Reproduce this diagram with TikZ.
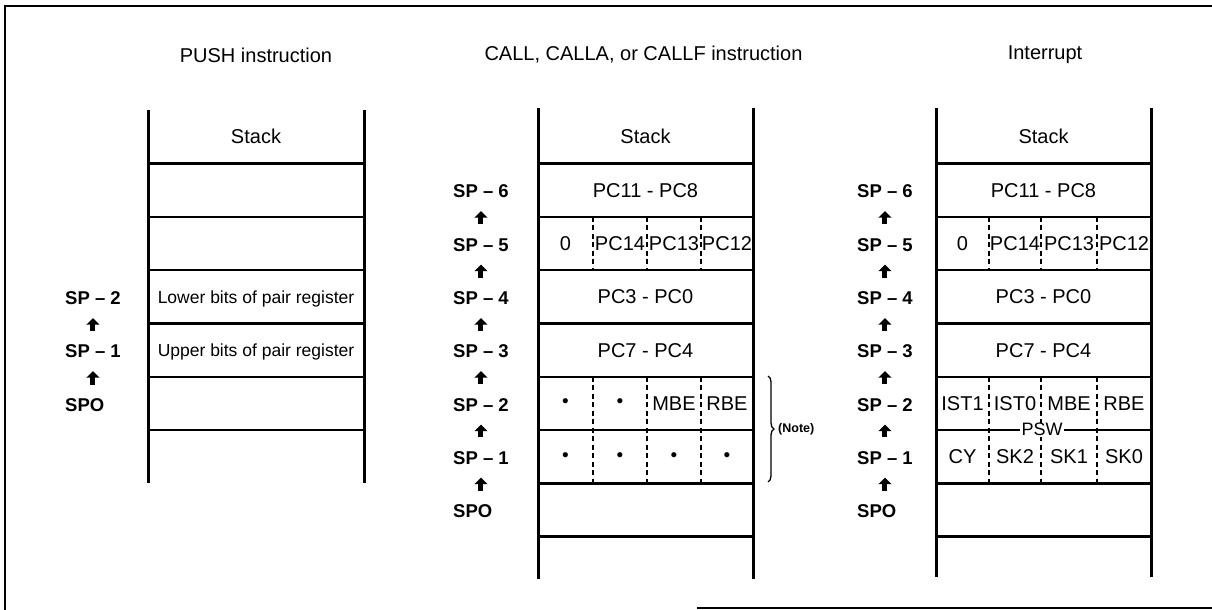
\documentclass[tikz,border=0pt]{standalone}
\usepackage{fontspec}
\setmainfont{Liberation Sans}
\usetikzlibrary{arrows.meta,decorations.pathreplacing}
\tikzset{
  ttl/.style={font=\fontsize{20}{22}\selectfont, inner sep=0pt},
  cell/.style={font=\fontsize{20}{22}\selectfont, inner sep=0pt, text height=14pt, text depth=0pt},
  smallcell/.style={font=\fontsize{17.5}{20}\selectfont, inner sep=0pt, text height=13pt, text depth=0pt},
  dotcell/.style={font=\fontsize{19}{21}\selectfont, inner sep=0pt},
  splabel/.style={font=\bfseries\fontsize{18.5}{22}\selectfont, inner sep=0pt, anchor=west, text height=13pt, text depth=0pt},
  wall/.style={line width=3pt},
  rowline/.style={line width=2.4pt},
  divider/.style={line width=1.6pt, dash pattern=on 5pt off 3.5pt},
  uparr/.style={line width=5pt, -{Triangle[width=13pt,length=6.5pt]}, shorten <=13.5pt, shorten >=13.5pt},
  frameline/.style={line width=2pt},
  notebrace/.style={line width=1.3pt, decorate, decoration={brace, amplitude=6pt}},
  notetext/.style={font=\bfseries\fontsize{12.5}{14}\selectfont, inner sep=0pt, anchor=west}
}
\begin{document}
\begin{tikzpicture}[x=1pt,y=-1pt]
\useasboundingbox (0,0) rectangle (1212,610);

% frame
\draw[frameline] (1212,6) -- (5,6) -- (5,610);
\draw[frameline] (697,608) -- (1212,608);

% titles
\node[ttl] (tpush) at (256,55) {PUSH instruction};
\node[ttl] (tcall) at (643.5,55) {CALL, CALLA, or CALLF instruction};
\node[ttl] (tint) at (1045,55) {Interrupt};

%% ---------------- PUSH stack ----------------
\draw[wall] (148,110) -- (148,483);
\draw[wall] (364,110) -- (364,483);
\foreach \y in {163.5,216.8,270.1,323.4,376.7,430}
  \draw[rowline] (148,\y) -- (364,\y);
\node[cell] (pstack) at (256,136.5) {Stack};
\node[smallcell] (plow) at (256,296.8) {Lower bits of pair register};
\node[smallcell] (pup) at (256,350) {Upper bits of pair register};
\node[splabel] (psp2) at (65,298) {SP – 2};
\node[splabel] (psp1) at (65,351) {SP – 1};
\node[splabel] (psp0) at (65,405) {SPO};
\draw[uparr] (psp1.south |- psp0.north) -- (psp1.south);
\draw[uparr] (psp2.south |- psp1.north) -- (psp2.south);

%% ---------------- CALL stack ----------------
\draw[wall] (538,108) -- (538,579);
\draw[wall] (753,108) -- (753,579);
\foreach \y in {163.5,216.8,270.1,323.4,376.7,430,483.3,536.6}
  \draw[rowline] (538,\y) -- (753,\y);
\foreach \x in {593,647,701}{
  \draw[divider] (\x,216.8) -- (\x,270.1);
  \draw[divider] (\x,376.7) -- (\x,483.3);
}
\node[cell] (cstack) at (645.5,136.5) {Stack};
\node[cell] (cr0) at (645.5,190.1) {PC11 - PC8};
\node[cell] (cr1a) at (565.5,243.5) {0};
\node[cell] (cr1b) at (620,243.5) {PC14};
\node[cell] (cr1c) at (674,243.5) {PC13};
\node[cell] (cr1d) at (727,243.5) {PC12};
\node[cell] (cr2) at (645.5,296.8) {PC3 - PC0};
\node[cell] (cr3) at (645.5,350) {PC7 - PC4};
\node[dotcell] (cr4a) at (565.5,403.3) {•};
\node[dotcell] (cr4b) at (620,403.3) {•};
\node[cell] (cr4c) at (674,403.3) {MBE};
\node[cell] (cr4d) at (727,403.3) {RBE};
\node[dotcell] (cr5a) at (565.5,456.7) {•};
\node[dotcell] (cr5b) at (620,456.7) {•};
\node[dotcell] (cr5c) at (674,456.7) {•};
\node[dotcell] (cr5d) at (727,456.7) {•};
\coordinate (cbtop) at (768,376);
\coordinate (cbbot) at (768,482);
\draw[notebrace] (cbtop) -- (cbbot);
\node[notetext] (cnote) at (778,429) {(Note)};
\node[splabel] (csp6) at (453,191) {SP – 6};
\node[splabel] (csp5) at (453,244.5) {SP – 5};
\node[splabel] (csp4) at (453,298) {SP – 4};
\node[splabel] (csp3) at (453,351) {SP – 3};
\node[splabel] (csp2) at (453,404.5) {SP – 2};
\node[splabel] (csp1) at (453,457.5) {SP – 1};
\node[splabel] (csp0) at (453,511) {SPO};
\draw[uparr] (csp1.south |- csp0.north) -- (csp1.south);
\draw[uparr] (csp2.south |- csp1.north) -- (csp2.south);
\draw[uparr] (csp3.south |- csp2.north) -- (csp3.south);
\draw[uparr] (csp4.south |- csp3.north) -- (csp4.south);
\draw[uparr] (csp5.south |- csp4.north) -- (csp5.south);
\draw[uparr] (csp6.south |- csp5.north) -- (csp6.south);

%% ---------------- Interrupt stack ----------------
\draw[wall] (936,108) -- (936,577);
\draw[wall] (1151,108) -- (1151,577);
\foreach \y in {163.5,216.8,270.1,323.4,376.7,430,483.3,536.6}
  \draw[rowline] (936,\y) -- (1151,\y);
\foreach \x in {989,1041,1097}{
  \draw[divider] (\x,216.8) -- (\x,270.1);
  \draw[divider] (\x,376.7) -- (\x,483.3);
}
\node[cell] (istack) at (1043.5,136.5) {Stack};
\node[cell] (ir0) at (1043.5,190.1) {PC11 - PC8};
\node[cell] (ir1a) at (962.5,243.5) {0};
\node[cell] (ir1b) at (1015,243.5) {PC14};
\node[cell] (ir1c) at (1069,243.5) {PC13};
\node[cell] (ir1d) at (1124,243.5) {PC12};
\node[cell] (ir2) at (1043.5,296.8) {PC3 - PC0};
\node[cell] (ir3) at (1043.5,350) {PC7 - PC4};
\node[cell] (ir4a) at (962.5,403.3) {IST1};
\node[cell] (ir4b) at (1015,403.3) {IST0};
\node[cell] (ir4c) at (1069,403.3) {MBE};
\node[cell] (ir4d) at (1124,403.3) {RBE};
\node[cell] (ir5a) at (962.5,456.7) {CY};
\node[cell] (ir5b) at (1015,456.7) {SK2};
\node[cell] (ir5c) at (1069,456.7) {SK1};
\node[cell] (ir5d) at (1124,456.7) {SK0};
\node[font=\fontsize{18}{20}\selectfont, inner sep=1.5pt, fill=white, text height=11pt, text depth=0pt] (ipsw) at (1042,430) {PSW};
\node[splabel] (isp6) at (857,191) {SP – 6};
\node[splabel] (isp5) at (857,244.5) {SP – 5};
\node[splabel] (isp4) at (857,298) {SP – 4};
\node[splabel] (isp3) at (857,351) {SP – 3};
\node[splabel] (isp2) at (857,404.5) {SP – 2};
\node[splabel] (isp1) at (857,457.5) {SP – 1};
\node[splabel] (isp0) at (857,511) {SPO};
\draw[uparr] (isp1.south |- isp0.north) -- (isp1.south);
\draw[uparr] (isp2.south |- isp1.north) -- (isp2.south);
\draw[uparr] (isp3.south |- isp2.north) -- (isp3.south);
\draw[uparr] (isp4.south |- isp3.north) -- (isp4.south);
\draw[uparr] (isp5.south |- isp4.north) -- (isp5.south);
\draw[uparr] (isp6.south |- isp5.north) -- (isp6.south);
\end{tikzpicture}
\end{document}
